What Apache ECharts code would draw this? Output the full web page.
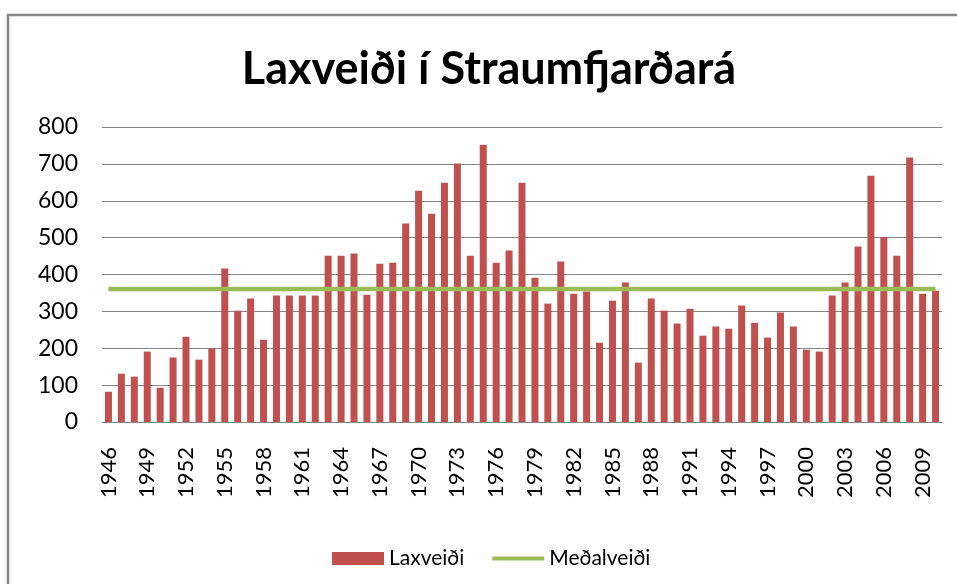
<!DOCTYPE html>
<html>
<head>
<meta charset="utf-8">
<title>Laxveiði í Straumfjarðará</title>
<script src="https://cdn.jsdelivr.net/npm/echarts@6/dist/echarts.min.js"></script>
<style>
	html, body { margin: 0; padding: 0; background: #fff; }
	#main { width: 957px; height: 584px; }
</style>
</head>
<body>
<div id="main"></div>
<script>
var years = [
	'1946', '1947', '1948', '1949', '1950', '1951', '1952', '1953', '1954', '1955',
	'1956', '1957', '1958', '1959', '1960', '1961', '1962', '1963', '1964', '1965',
	'1966', '1967', '1968', '1969', '1970', '1971', '1972', '1973', '1974', '1975',
	'1976', '1977', '1978', '1979', '1980', '1981', '1982', '1983', '1984', '1985',
	'1986', '1987', '1988', '1989', '1990', '1991', '1992', '1993', '1994', '1995',
	'1996', '1997', '1998', '1999', '2000', '2001', '2002', '2003', '2004', '2005',
	'2006', '2007', '2008', '2009', '2010'
];

// veiði hvert ár
var laxveidi = [
	82, 131, 123, 191, 93, 175, 231, 169, 199, 416,
	302, 335, 223, 343, 343, 343, 343, 451, 451, 457,
	345, 429, 432, 538, 627, 565, 649, 701, 451, 752,
	432, 465, 649, 391, 321, 435, 348, 354, 215, 329,
	378, 161, 335, 302, 267, 307, 234, 259, 253, 316,
	269, 229, 297, 259, 196, 191, 343, 378, 476, 668,
	502, 451, 717, 348, 356
];

var medalveidiValue = 361; // meðalveiði, lesið af myndinni
var medalveidi = years.map(function() { return medalveidiValue; });

var yTicks = [0, 100, 200, 300, 400, 500, 600, 700, 800];

var fontName = 'Lato';

function showchart() {
	var myChart = echarts.init(document.getElementById('main'));

	var option = {
		animation: false,
		backgroundColor: '#fff',
		title: {
			text: 'Laxveiði í Straumfjarðará',
			left: 484,
			top: 42,
			textAlign: 'center',
			textStyle: {
				fontFamily: fontName,
				fontWeight: 'bold',
				fontSize: 45,
				color: '#000'
			}
		},
		graphic: [{
			// rammi utan um myndina
			type: 'rect',
			silent: true,
			shape: { x: 8, y: 15, width: 1200, height: 1200 },
			style: { fill: 'none', stroke: '#868686', lineWidth: 2.5 }
		}],
		legend: {
			left: 327,
			top: 543,
			itemWidth: 52,
			itemHeight: 13,
			itemGap: 28,
			textStyle: {
				fontFamily: fontName,
				fontSize: 21,
				color: '#000'
			},
			data: [
				{ name: 'Laxveiði', icon: 'rect' },
				{ name: 'Meðalveiði', icon: 'path://M0,0H52V4H0Z' }
			]
		},
		grid: {
			left: 102,
			right: 15,
			top: 127,
			bottom: 162,
			containLabel: false
		},
		xAxis: {
			type: 'category',
			data: years,
			boundaryGap: true,
			axisLine: { lineStyle: { color: '#868686', width: 1 } },
			axisTick: { show: false },
			axisLabel: {
				interval: 2,
				rotate: 90,
				margin: 25,
				fontFamily: fontName,
				fontSize: 22,
				color: '#000'
			}
		},
		yAxis: {
			type: 'value',
			min: yTicks[0],
			max: yTicks[yTicks.length - 1],
			interval: 100,
			axisLine: { show: false },
			axisTick: { show: false },
			splitLine: { lineStyle: { color: '#868686', width: 1 } },
			axisLabel: {
				margin: 24,
				fontFamily: fontName,
				fontSize: 23,
				color: '#000'
			}
		},
		series: [{
			name: 'Laxveiði',
			type: 'bar',
			data: laxveidi,
			barWidth: 7,
			itemStyle: { color: '#C0504D' }
		}, {
			name: 'Meðalveiði',
			type: 'line',
			data: medalveidi,
			symbol: 'none',
			showSymbol: false,
			z: 5,
			lineStyle: { color: '#9BBB59', width: 4.5 },
			itemStyle: { color: '#9BBB59' }
		}]
	};

	myChart.setOption(option, true);
	window.onresize = function() {
		myChart.resize();
	}
}

window.onload = showchart;
</script>
</body>
</html>
